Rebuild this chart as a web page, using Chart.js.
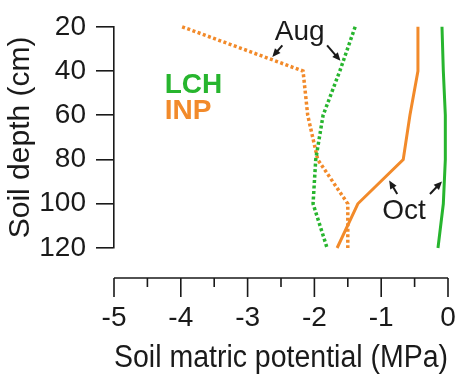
<!DOCTYPE html>
<html>
<head>
<meta charset="utf-8">
<script src="https://cdn.jsdelivr.net/npm/chart.js@4.4.0/dist/chart.umd.min.js"></script>
<style>
  html, body { margin: 0; padding: 0; background: #fff; }
  #wrap { width: 461px; height: 385px; }
</style>
</head>
<body>
<div id="wrap"><canvas id="chart"></canvas></div>
<script>
// depth profiles of soil matric potential (MPa)
const depths = [20, 40, 60, 80, 100, 120];
const lchAug = [-1.39, -1.62, -1.87, -1.98, -2.02, -1.81];
const inpAug = [-3.98, -2.17, -2.10, -1.95, -1.50, -1.50];
const inpOct = [-0.45, -0.45, -0.57, -0.67, -1.35, -1.66];
const lchOct = [-0.09, -0.07, -0.04, -0.04, -0.07, -0.15];
const xTicks = [-5, -4, -3, -2, -1, 0];
const yTicks = [20, 40, 60, 80, 100, 120];

const GREEN = '#27b52e';
const ORANGE = '#f28a2a';
const INK = '#1a1a1a';
const FONT = '"Liberation Sans", Arial, sans-serif';

const toPoints = (xs) => xs.map((v, i) => ({ x: v, y: depths[i] }));

function series(values, color, dotted) {
    return {
        data: toPoints(values),
        borderColor: color,
        borderWidth: dotted ? 3.5 : 3,
        borderDash: dotted ? [3, 2.5] : [],
        showLine: true,
        pointRadius: 0,
        tension: 0,
        clip: false,
    };
}

// x axis is drawn detached below the plot, like the original figure
const offsetXAxis = {
    id: 'offsetXAxis',
    afterDraw(chart) {
        const { ctx, chartArea } = chart;
        const x = chart.scales.x;
        const y0 = chartArea.bottom + 30;
        ctx.save();
        ctx.strokeStyle = INK;
        ctx.lineWidth = 1.6;
        ctx.beginPath();
        ctx.moveTo(x.getPixelForValue(xTicks[0]), y0);
        ctx.lineTo(x.getPixelForValue(xTicks[xTicks.length - 1]), y0);
        for (let v = xTicks[0]; v <= xTicks[xTicks.length - 1]; v += 0.5) {
            const px = x.getPixelForValue(v);
            ctx.moveTo(px, y0);
            ctx.lineTo(px, y0 + (Number.isInteger(v) ? 19 : 9));
        }
        ctx.stroke();
        ctx.restore();
    }
};

function arrow(ctx, x1, y1, x2, y2) {
    const a = Math.atan2(y2 - y1, x2 - x1);
    const h = 9;
    ctx.beginPath();
    ctx.moveTo(x1, y1);
    ctx.lineTo(x2 - Math.cos(a) * 5, y2 - Math.sin(a) * 5);
    ctx.stroke();
    ctx.beginPath();
    ctx.moveTo(x2, y2);
    ctx.lineTo(x2 - h * Math.cos(a - 0.42), y2 - h * Math.sin(a - 0.42));
    ctx.lineTo(x2 - h * Math.cos(a + 0.42), y2 - h * Math.sin(a + 0.42));
    ctx.closePath();
    ctx.fill();
}

// labels and pointer arrows, anchored in data coordinates
const annotations = {
    id: 'annotations',
    afterDatasetsDraw(chart) {
        const { ctx } = chart;
        const { x, y } = chart.scales;
        const P = (vx, vy) => [x.getPixelForValue(vx), y.getPixelForValue(vy)];
        ctx.save();
        ctx.textBaseline = 'alphabetic';

        ctx.font = `bold 28px ${FONT}`;
        ctx.textAlign = 'left';
        ctx.fillStyle = GREEN;
        ctx.fillText('LCH', ...P(-4.24, 49.8));
        ctx.fillStyle = ORANGE;
        ctx.fillText('INP', ...P(-4.24, 61.8));

        ctx.font = `28px ${FONT}`;
        ctx.textAlign = 'center';
        ctx.fillStyle = INK;
        ctx.fillText('Aug', ...P(-2.22, 25.8));
        ctx.fillText('Oct', ...P(-0.66, 106.7));

        ctx.strokeStyle = INK;
        ctx.lineWidth = 2;
        arrow(ctx, ...P(-2.48, 28.4), ...P(-2.63, 33.6));
        arrow(ctx, ...P(-1.81, 28.4), ...P(-1.61, 35.4));
        arrow(ctx, ...P(-0.76, 95.6), ...P(-0.88, 89.5));
        arrow(ctx, ...P(-0.27, 95.6), ...P(-0.09, 89.9));
        ctx.restore();
    }
};

new Chart(document.getElementById('chart'), {
    type: 'scatter',
    data: {
        datasets: [
            series(lchAug, GREEN, true),
            series(inpAug, ORANGE, true),
            series(inpOct, ORANGE, false),
            series(lchOct, GREEN, false),
        ]
    },
    options: {
        responsive: true,
        maintainAspectRatio: false,
        animation: false,
        layout: { padding: { top: 23, right: 13, left: 0, bottom: 0 } },
        plugins: {
            legend: { display: false },
            tooltip: { enabled: false },
        },
        scales: {
            x: {
                type: 'linear',
                min: -5,
                max: 0,
                afterBuildTicks: (scale) => { scale.ticks = xTicks.map(v => ({ value: v })); },
                afterFit: (scale) => { scale.height = 137; },
                // tick marks hidden here (drawn by offsetXAxis); tickLength only pushes labels down
                grid: { display: false, drawTicks: true, tickLength: 50 },
                border: { display: false },
                ticks: {
                    padding: 3,
                    maxRotation: 0,
                    color: INK,
                    font: { family: FONT, size: 28 },
                },
                title: {
                    display: true,
                    text: 'Soil matric potential (MPa)',
                    color: INK,
                    font: { family: FONT, size: 31 },
                    padding: { top: 0, bottom: 8 },
                },
            },
            y: {
                type: 'linear',
                reverse: true,
                min: 20,
                max: 120,
                afterBuildTicks: (scale) => { scale.ticks = yTicks.map(v => ({ value: v })); },
                afterFit: (scale) => { scale.width = 114; },
                grid: {
                    display: true,
                    drawOnChartArea: false,
                    drawTicks: true,
                    tickLength: 18,
                    color: INK,
                    lineWidth: 1.6,
                },
                border: { display: true, color: INK, width: 1.6 },
                ticks: {
                    padding: 10,
                    color: INK,
                    font: { family: FONT, size: 28 },
                },
                title: {
                    display: true,
                    text: 'Soil depth (cm)',
                    color: INK,
                    font: { family: FONT, size: 30 },
                    padding: { top: 3, bottom: 0 },
                },
            },
        },
    },
    plugins: [offsetXAxis, annotations],
});
</script>
</body>
</html>
